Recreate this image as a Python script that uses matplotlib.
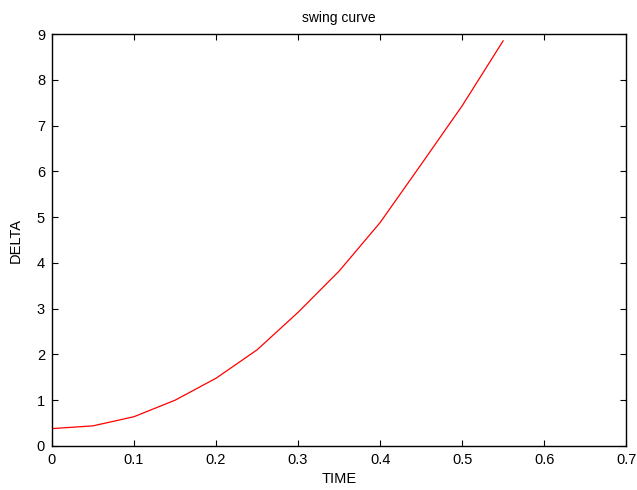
import numpy as np
import matplotlib.pyplot as plt

plt.rcParams['font.family'] = ['Liberation Sans', 'DejaVu Sans']

time = [0, 0.05, 0.10, 0.15, 0.20, 0.25, 0.30, 0.35, 0.40, 0.45, 0.50, 0.55]
delta = [0.38, 0.44, 0.64, 1.00, 1.48, 2.10, 2.92, 3.82, 4.88, 6.15, 7.43, 8.85]

font_size = 10.5

fig = plt.figure(figsize=(6.37, 4.9), dpi=100)
ax = fig.add_axes([0.0816, 0.0898, 0.9014, 0.8408])

ax.plot(time, delta, color='red', linewidth=0.9)

ax.set_xlim(0, 0.7)
ax.set_ylim(0, 9)
ax.set_xticks(np.arange(0, 0.71, 0.1))
ax.set_xticklabels(['0', '0.1', '0.2', '0.3', '0.4', '0.5', '0.6', '0.7'])
ax.set_yticks(range(10))
ax.tick_params(axis='both', which='major', direction='in', length=4,
               labelsize=font_size, top=True, right=True, pad=5)
for side in ax.spines.values():
    side.set_linewidth(1.0)

ax.set_title('swing curve', fontsize=font_size - 0.5, pad=9)
ax.set_xlabel('TIME', fontsize=font_size, labelpad=4)
ax.set_ylabel('DELTA', fontsize=font_size, labelpad=10)

fig.savefig('out.png', dpi=100)
